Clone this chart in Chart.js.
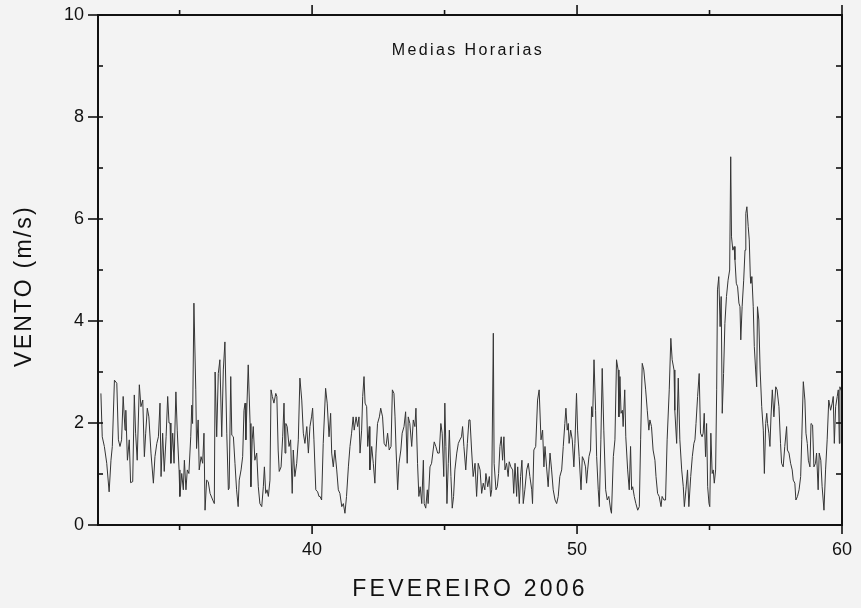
<!DOCTYPE html>
<html>
<head>
<meta charset="utf-8">
<style>
html,body{margin:0;padding:0;background:#f3f3f3;}
#wrap{width:861px;height:608px;}
</style>
<script src="https://cdn.jsdelivr.net/npm/chart.js@4/dist/chart.umd.min.js"></script>
</head>
<body>
<div id="wrap"><canvas id="c" width="861" height="608"></canvas></div>
<script>
// Dia do ano (fevereiro 2006 = dias 32..60)
const dias = [
 32.03,32.08,32.16,32.25,32.34,32.41,32.46,32.54,32.63,32.69,32.75,32.81,32.87,32.94,32.97,33.03,33.10,33.15,33.23,33.29,33.34,33.40,33.48,33.54,33.61,33.67,33.72,33.78,33.84,33.92,34.01,34.07,34.14,34.20,34.26,34.30,34.36,34.42,34.49,34.55,34.60,
 34.64,34.67,34.74,34.79,34.86,34.91,34.98,35.01,35.08,35.14,35.18,35.24,35.29,35.35,35.42,35.46,35.49,35.54,35.61,35.64,35.70,35.74,35.81,35.87,35.92,35.96,36.02,36.08,36.15,36.25,36.31,36.34,36.40,36.46,36.52,36.59,36.65,36.71,36.78,36.84,36.87,36.93,36.97,37.03,37.09,37.15,37.21,37.25,37.32,37.38,37.43,
 37.47,37.50,37.59,37.66,37.69,37.74,37.78,37.84,37.91,37.97,38.03,38.10,38.16,38.20,38.25,38.30,38.35,38.41,38.45,38.50,38.56,38.63,38.67,38.72,38.76,38.83,38.89,38.94,38.98,39.01,39.06,39.13,39.19,39.25,39.29,39.35,39.42,39.48,39.54,39.61,39.67,39.73,39.80,39.86,39.92,39.98,40.02,40.07,40.14,40.21,40.26,
 40.30,40.36,40.42,40.51,40.57,40.64,40.70,40.74,40.80,40.86,40.93,40.99,41.05,41.12,41.18,41.24,41.30,41.37,41.43,41.49,41.55,41.59,41.66,41.72,41.77,41.81,41.87,41.91,41.96,42.00,42.06,42.10,42.16,42.18,42.25,42.31,42.37,42.41,42.47,42.54,42.59,42.66,42.72,42.79,42.85,42.91,42.98,43.03,43.09,
 43.13,43.17,43.23,43.28,43.35,43.40,43.47,43.53,43.59,43.63,43.69,43.76,43.82,43.88,43.92,43.98,44.03,44.08,44.14,44.20,44.23,44.29,44.35,44.38,44.45,44.51,44.57,44.61,44.67,44.74,44.80,44.86,44.91,44.97,45.01,45.05,45.09,45.14,45.18,45.24,45.29,45.34,45.39,45.46,45.52,45.58,45.64,45.68,45.73,45.80,45.86,45.92,
 45.96,46.02,46.08,46.15,46.21,46.27,46.34,46.40,46.46,46.52,46.56,46.63,46.69,46.74,46.78,46.84,46.87,46.94,46.99,47.04,47.09,47.14,47.19,47.24,47.28,47.34,47.40,47.44,47.50,47.57,47.61,47.66,47.72,47.76,47.82,47.87,47.92,47.97,48.03,48.10,48.16,48.22,48.29,48.32,48.37,48.44,48.51,48.57,48.64,48.70,48.75,
 48.79,48.85,48.91,48.98,49.04,49.10,49.17,49.23,49.29,49.35,49.42,49.48,49.54,49.58,49.63,49.67,49.70,49.76,49.82,49.88,49.92,49.98,50.02,50.08,50.15,50.20,50.26,50.32,50.36,50.40,50.45,50.51,50.55,50.59,50.64,50.70,50.74,50.80,50.84,50.90,50.95,51.01,51.08,51.14,51.20,51.27,51.30,51.37,51.43,51.49,51.55,51.58,
 51.62,51.66,51.71,51.74,51.80,51.84,51.91,51.97,52.02,52.06,52.10,52.16,52.22,52.29,52.35,52.40,52.46,52.52,52.59,52.65,52.71,52.75,52.81,52.87,52.94,52.98,53.04,53.10,53.17,53.21,53.28,53.34,53.40,53.48,53.54,53.59,53.66,53.69,53.76,53.82,53.88,53.95,54.01,54.05,54.11,54.17,54.22,54.29,54.35,54.41,
 54.45,54.49,54.55,54.61,54.66,54.72,54.76,54.80,54.85,54.89,54.93,54.98,55.01,55.05,55.10,55.14,55.18,55.23,55.27,55.30,55.35,55.40,55.44,55.48,55.53,55.58,55.64,55.70,55.76,55.80,55.83,55.88,55.93,55.96,56.01,56.06,56.11,56.15,56.18,56.23,56.29,56.34,56.37,56.41,56.46,56.50,56.54,56.56,56.60,56.65,56.69,56.74,56.78,56.81,56.86,56.91,56.97,57.03,57.07,57.12,57.16,57.19,57.24,
 57.28,57.32,57.37,57.43,57.50,57.55,57.62,57.68,57.72,57.78,57.84,57.91,57.94,58.00,58.06,58.12,58.16,58.22,58.26,58.32,58.38,58.44,58.48,58.54,58.60,58.64,58.69,58.73,58.79,58.83,58.89,58.94,59.00,59.04,59.10,59.14,59.20,59.25,59.32,59.38,59.44,59.50,59.57,59.63,59.67,59.71,59.76,59.82,59.86,59.90,59.92,60.00
];
// Vento, medias horarias (m/s)
const vento = [
 2.58,1.73,1.54,1.21,0.65,1.27,1.54,2.84,2.78,1.67,1.54,1.67,2.52,1.86,2.25,1.27,1.67,0.83,0.85,2.55,1.80,1.27,2.75,2.32,2.45,1.34,1.80,2.29,2.12,1.41,0.82,1.34,1.60,1.73,2.39,0.95,1.80,1.05,1.73,2.52,2.00,
 2.00,1.21,1.80,1.21,2.61,1.86,1.08,0.56,1.01,0.69,1.27,0.69,1.08,1.01,1.73,2.35,1.99,4.35,2.65,1.50,2.06,1.08,1.34,1.21,1.80,0.29,0.88,0.85,0.62,0.49,0.42,3.00,1.73,2.97,3.24,1.73,3.04,3.59,1.80,0.69,0.72,2.91,1.76,1.73,1.21,0.69,0.36,0.88,1.08,1.34,2.25,
 2.39,1.67,3.14,1.99,0.75,1.67,1.93,1.27,1.41,0.75,0.42,0.36,0.75,1.14,0.62,0.69,0.56,0.88,2.65,2.52,2.39,2.58,2.52,1.47,1.05,1.14,1.73,2.39,1.41,1.99,1.93,1.54,1.67,0.62,1.47,0.95,1.21,1.67,2.88,2.45,1.80,1.60,1.93,1.41,1.93,2.12,2.29,1.67,0.69,0.65,0.56,
 0.56,0.49,1.60,2.68,2.39,1.73,2.19,1.41,1.14,1.47,1.08,0.69,0.62,0.36,0.42,0.23,0.56,1.14,1.54,1.80,2.12,1.86,2.12,1.93,2.12,1.41,1.86,2.52,2.91,2.39,2.32,1.54,1.93,1.08,1.54,1.21,0.82,1.41,1.99,2.12,2.29,2.12,1.60,1.54,1.80,1.47,1.54,2.65,2.58,
 2.12,1.47,0.69,1.21,1.47,1.80,1.93,2.22,1.21,2.12,1.99,1.54,2.06,1.93,2.29,1.21,0.56,0.75,0.42,1.27,0.42,0.33,0.69,0.42,1.14,1.21,1.47,1.63,1.54,1.41,1.41,1.99,1.80,0.95,2.39,1.54,0.42,1.21,1.86,0.95,0.33,0.56,1.08,1.41,1.60,1.67,1.73,1.93,1.54,1.08,1.60,2.06,
 2.06,1.47,0.95,1.21,0.56,1.21,1.08,0.62,0.82,0.69,1.01,0.75,0.95,0.56,0.69,3.76,1.21,0.69,0.75,1.01,1.54,1.73,1.27,1.73,1.08,1.21,0.95,1.24,1.14,1.08,0.62,1.21,0.56,1.14,0.42,0.95,1.27,0.42,0.69,1.08,1.21,0.95,0.69,0.42,1.47,1.54,2.45,2.65,1.67,1.86,1.14,
 1.54,1.14,0.75,1.41,1.08,0.69,0.49,0.42,0.56,0.95,1.08,1.54,1.99,2.29,1.86,1.99,1.60,1.86,1.67,1.14,1.60,2.58,1.86,1.34,0.69,1.34,1.27,1.14,0.82,1.08,1.34,1.47,2.32,2.12,3.24,2.25,1.34,0.69,0.36,1.67,3.07,1.86,0.69,0.49,0.56,0.29,0.23,1.34,1.67,3.24,3.04,2.12,
 2.91,2.19,2.25,1.93,2.65,1.73,1.08,0.69,1.54,0.69,0.75,0.56,0.42,0.29,0.36,1.67,3.17,3.04,2.65,2.25,1.86,2.06,1.93,1.47,1.27,0.95,0.62,0.56,0.36,0.56,0.49,0.49,1.67,2.65,3.66,3.24,3.04,2.25,1.60,2.88,1.67,1.08,0.75,0.36,0.69,1.08,0.36,0.95,1.34,1.60,
 1.67,1.99,2.52,2.97,1.80,1.73,1.80,2.19,1.34,1.99,0.75,0.42,0.36,1.80,1.01,1.08,0.82,1.08,2.65,4.61,4.87,3.89,4.48,2.19,2.97,3.95,4.48,4.80,5.00,7.22,5.65,5.39,5.46,5.20,4.74,4.67,4.35,4.28,3.63,4.28,4.80,5.39,6.11,6.24,5.85,5.59,4.87,4.74,4.87,4.28,3.50,3.04,2.71,4.28,4.02,3.04,2.32,1.86,1.01,1.99,2.19,1.99,1.80,
 1.54,2.12,2.65,2.12,2.71,2.65,2.32,1.60,1.21,1.14,1.54,1.93,1.47,1.41,1.21,1.08,0.88,0.82,0.49,0.56,0.69,0.95,1.67,2.81,2.45,1.80,1.60,1.27,1.14,1.99,1.96,1.14,1.21,1.41,0.69,1.41,1.27,0.75,0.29,1.08,1.67,2.45,2.25,2.39,2.52,1.60,2.32,2.52,2.65,1.60,2.71,2.60
];
const xMajor = [40, 50, 60];
const xMinor = [35, 45, 55];
const yMajor = [0, 2, 4, 6, 8, 10];
const yMinor = [1, 3, 5, 7, 9];
const titulo = 'Medias Horarias';
const tituloX = 'FEVEREIRO 2006';
const tituloY = 'VENTO (m/s)';

const FONT = '"Liberation Sans", Arial, Helvetica, sans-serif';
const INK = '#111111';

const bgPlugin = {
  id: 'bg',
  beforeDraw(chart) {
    const ctx = chart.ctx;
    ctx.save();
    ctx.fillStyle = '#f3f3f3';
    ctx.fillRect(0, 0, chart.width, chart.height);
    ctx.restore();
    // letter-spaced axis titles
    for (const id of ['x', 'y']) {
      const s = chart.scales[id];
      if (s && !s._lsPatched) {
        const orig = s.drawTitle.bind(s);
        s.drawTitle = function () {
          const c = this.ctx;
          c.save();
          c.letterSpacing = id === 'x' ? '3.2px' : '2.2px';
          if (id === 'y') c.translate(0, 16);
          orig();
          c.restore();
        };
        s._lsPatched = true;
      }
    }
  }
};

const framePlugin = {
  id: 'frame',
  afterDatasetsDraw(chart) {
    const {ctx, chartArea: {left, right, top, bottom}, scales: {x, y}} = chart;
    ctx.save();
    ctx.strokeStyle = INK;
    ctx.lineWidth = 2;
    ctx.strokeRect(left, top, right - left, bottom - top);
    ctx.lineWidth = 1.6;
    const seg = (x1, y1, x2, y2) => { ctx.beginPath(); ctx.moveTo(x1, y1); ctx.lineTo(x2, y2); ctx.stroke(); };
    xMajor.forEach(v => { const p = x.getPixelForValue(v); seg(p, bottom, p, bottom + 9); seg(p, top, p, top - 10); });
    xMinor.forEach(v => { const p = x.getPixelForValue(v); seg(p, bottom, p, bottom + 5); seg(p, top, p, top - 5); });
    yMajor.forEach(v => { const p = y.getPixelForValue(v); seg(left - 10, p, left + 5, p); seg(right, p, right - 6, p); });
    yMinor.forEach(v => { const p = y.getPixelForValue(v); seg(left, p, left + 5, p); seg(right, p, right - 6, p); });
    ctx.fillStyle = INK;
    ctx.font = '16px ' + FONT;
    ctx.letterSpacing = '2.4px';
    ctx.textAlign = 'center';
    ctx.textBaseline = 'middle';
    ctx.fillText(titulo, (left + right) / 2 - 2, top + 36);
    ctx.restore();
  }
};

new Chart(document.getElementById('c'), {
  type: 'line',
  data: {
    datasets: [{
      data: dias.map((d, i) => ({x: d, y: vento[i]})),
      borderColor: '#353535',
      borderWidth: 1,
      pointRadius: 0,
      tension: 0,
      fill: false
    }]
  },
  options: {
    responsive: false,
    animation: false,
    devicePixelRatio: 1,
    layout: {padding: {left: 0, right: 19, top: 15, bottom: 0}},
    plugins: {legend: {display: false}, tooltip: {enabled: false}, title: {display: false}},
    scales: {
      x: {
        type: 'linear',
        min: 31.92,
        max: 60,
        afterBuildTicks: s => { s.ticks = xMajor.map(v => ({value: v})); },
        afterFit: s => { s.height = 83; s.paddingLeft = 0; s.paddingRight = 0; },
        grid: {display: false, drawTicks: false},
        border: {display: false},
        ticks: {
          autoSkip: false, maxRotation: 0, padding: 14,
          color: INK, font: {family: FONT, size: 18},
          callback: v => String(v)
        },
        title: {display: true, text: tituloX, color: INK, font: {family: FONT, size: 23}, padding: {top: 0, bottom: 5}}
      },
      y: {
        type: 'linear',
        min: 0,
        max: 10,
        afterBuildTicks: s => { s.ticks = yMajor.map(v => ({value: v})); },
        afterFit: s => { s.width = 98; s.paddingTop = 0; s.paddingBottom = 0; },
        grid: {display: false, drawTicks: false},
        border: {display: false},
        ticks: {
          padding: 14,
          color: INK, font: {family: FONT, size: 18},
          callback: v => String(v)
        },
        title: {display: true, text: tituloY, color: INK, font: {family: FONT, size: 23}, padding: {top: 11, bottom: 0}}
      }
    }
  },
  plugins: [bgPlugin, framePlugin]
});
</script>
</body>
</html>
